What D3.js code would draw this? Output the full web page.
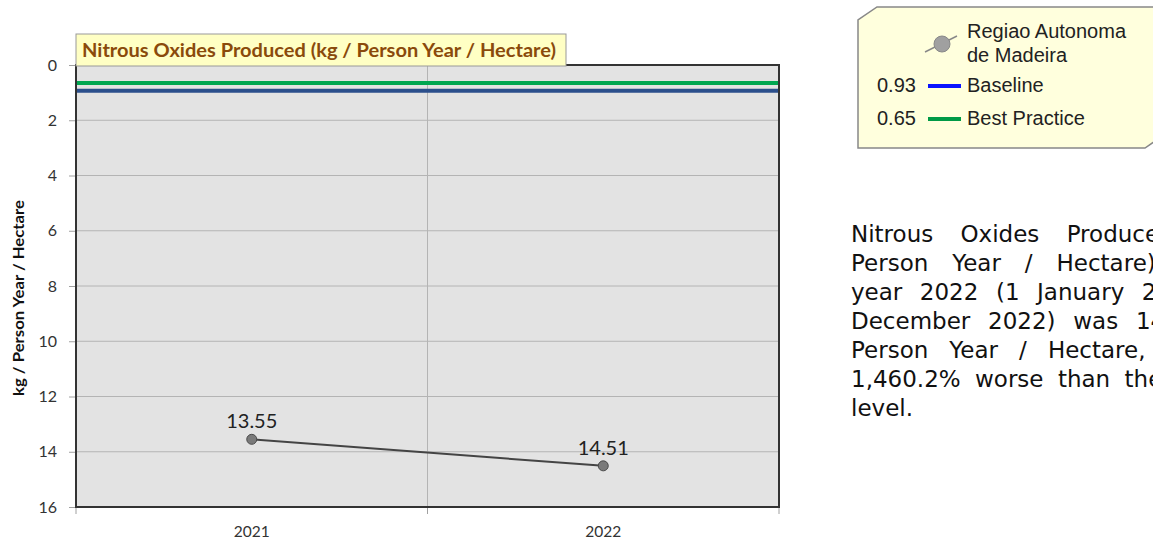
<!DOCTYPE html>
<html><head><meta charset="utf-8">
<script src="https://cdn.jsdelivr.net/npm/d3@7"></script>
<style>
html,body{margin:0;padding:0;overflow:hidden;background:#fff;width:1153px;height:540px;}
svg{display:block;}
</style></head>
<body>
<script>
const categories = ["2021", "2022"];
const seriesName = ["Regiao Autonoma", "de Madeira"];
const seriesValues = [13.55, 14.51];
const baselineValue = 0.93;
const bestPracticeValue = 0.65;
const yTicks = [0, 2, 4, 6, 8, 10, 12, 14, 16];
const chartTitle = "Nitrous Oxides Produced (kg / Person Year / Hectare)";
const yAxisTitle = "kg / Person Year / Hectare";
const paragraphLines = [
  "Nitrous Oxides Produced (kg /",
  "Person Year / Hectare) for the",
  "year 2022 (1 January 2022 - 31",
  "December 2022) was 14.51 kg /",
  "Person Year / Hectare, which is",
  "1,460.2% worse than the baseline",
  "level."
];

const W = 1153, H = 540;
const svg = d3.select("body").append("svg").attr("width", W).attr("height", H);

const L = 76, R = 779, T = 65, B = 507;
const x = d3.scaleBand().domain(categories).range([L, R]);
const y = d3.scaleLinear().domain([0, 16]).range([T, B]);
const cf = "Lato, 'Open Sans', sans-serif";

svg.append("rect").attr("x", L).attr("y", T).attr("width", R - L).attr("height", B - T).attr("fill", "#e3e3e3");

svg.append("g").selectAll("line").data(yTicks.slice(1, -1)).join("line")
  .attr("x1", L).attr("x2", R).attr("y1", d => y(d)).attr("y2", d => y(d))
  .attr("stroke", "#b4b4b4").attr("stroke-width", 1);
svg.append("g").selectAll("line").data(categories.slice(1)).join("line")
  .attr("x1", d => x(d)).attr("x2", d => x(d)).attr("y1", T).attr("y2", B)
  .attr("stroke", "#b4b4b4").attr("stroke-width", 1);

const yAxis = d3.axisLeft(y).tickValues(yTicks).tickSize(7).tickPadding(12).tickFormat(d3.format("d"));
const gy = svg.append("g").attr("transform", `translate(${L},0)`).call(yAxis);
gy.select(".domain").remove();
gy.selectAll(".tick line").attr("stroke", "#a0a0a0");
gy.selectAll(".tick text").attr("font-family", cf).attr("font-size", 16).attr("fill", "#333");

const bounds = categories.map(c => x(c)).concat([x(categories[categories.length - 1]) + x.bandwidth()]);
svg.append("g").selectAll("line").data(bounds).join("line")
  .attr("x1", d => d).attr("x2", d => d).attr("y1", B).attr("y2", B + 7)
  .attr("stroke", "#a0a0a0");
svg.append("g").selectAll("text").data(categories).join("text")
  .attr("x", d => x(d) + x.bandwidth() / 2).attr("y", B + 30)
  .attr("text-anchor", "middle").attr("font-family", cf)
  .attr("font-size", 15.5).attr("fill", "#333").text(d => d);

svg.append("text").attr("transform", `translate(24,298) rotate(-90)`)
  .attr("text-anchor", "middle").attr("font-family", cf)
  .attr("font-weight", "bold").attr("font-size", 16).attr("fill", "#111")
  .attr("textLength", 196).attr("lengthAdjust", "spacingAndGlyphs").text(yAxisTitle);

svg.append("line").attr("x1", L).attr("x2", R).attr("y1", y(bestPracticeValue)).attr("y2", y(bestPracticeValue))
  .attr("stroke", "#00a651").attr("stroke-width", 4);
svg.append("line").attr("x1", L).attr("x2", R).attr("y1", y(baselineValue)).attr("y2", y(baselineValue))
  .attr("stroke", "#2b4f8c").attr("stroke-width", 4);

svg.append("rect").attr("x", L).attr("y", T).attr("width", R - L).attr("height", B - T)
  .attr("fill", "none").attr("stroke", "#333").attr("stroke-width", 2);

const pts = categories.map((c, i) => [x(c) + x.bandwidth() / 2, y(seriesValues[i])]);
svg.append("path").attr("d", d3.line()(pts)).attr("fill", "none").attr("stroke", "#444").attr("stroke-width", 2);
svg.append("g").selectAll("circle").data(pts).join("circle")
  .attr("cx", d => d[0]).attr("cy", d => d[1]).attr("r", 5)
  .attr("fill", "#7a7a7a").attr("stroke", "#4a4a4a").attr("stroke-width", 1);
svg.append("g").selectAll("text").data(seriesValues).join("text")
  .attr("x", (d, i) => pts[i][0]).attr("y", (d, i) => pts[i][1] - 11)
  .attr("text-anchor", "middle").attr("font-family", cf)
  .attr("font-size", 20).attr("fill", "#222").text(d => d.toFixed(2));

// title box
const tg = svg.append("g");
tg.append("rect").attr("x", L).attr("y", 34).attr("width", 490).attr("height", 32)
  .attr("fill", "#ffffc4").attr("stroke", "#999").attr("stroke-width", 1);
tg.append("text").attr("x", 82).attr("y", 57)
  .attr("font-family", cf).attr("font-weight", "bold")
  .attr("font-size", 18.5).attr("fill", "#8a4a0b")
  .attr("textLength", 474).attr("lengthAdjust", "spacingAndGlyphs").text(chartTitle);

// legend
const lx0 = 858, ly0 = 7, lx1 = 1164, ly1 = 148, cx = 19, cy = 13;
svg.append("path")
  .attr("d", `M${lx0 + cx},${ly0} L${lx1},${ly0} L${lx1},${ly1 - cy} L${lx1 - cx},${ly1} L${lx0},${ly1} L${lx0},${ly0 + cy} Z`)
  .attr("fill", "#ffffdd").attr("stroke", "#888").attr("stroke-width", 1.5);

const lf = "Arial, 'Liberation Sans', sans-serif";
svg.append("line").attr("x1", 925).attr("x2", 957).attr("y1", 52).attr("y2", 36).attr("stroke", "#888").attr("stroke-width", 1.5);
svg.append("circle").attr("cx", 942).attr("cy", 44).attr("r", 8).attr("fill", "#a0a0a0").attr("stroke", "#888");
svg.append("g").selectAll("text").data(seriesName).join("text")
  .attr("x", 967).attr("y", (d, i) => 38 + i * 24).attr("font-family", lf).attr("font-size", 20).attr("fill", "#222").text(d => d);

const legendRows = [
  {val: baselineValue, name: "Baseline", color: "#0a14ff"},
  {val: bestPracticeValue, name: "Best Practice", color: "#009a46"}
];
const lr = svg.append("g").selectAll("g").data(legendRows).join("g")
  .attr("transform", (d, i) => `translate(0,${92 + i * 33})`);
lr.append("text").attr("x", 877).attr("y", 0).attr("font-family", lf).attr("font-size", 20).attr("fill", "#222").text(d => d.val.toFixed(2));
lr.append("line").attr("x1", 928).attr("x2", 961).attr("y1", -6).attr("y2", -6).attr("stroke", d => d.color).attr("stroke-width", 4);
lr.append("text").attr("x", 967).attr("y", 0).attr("font-family", lf).attr("font-size", 20).attr("fill", "#222").text(d => d.name);

// justified paragraph
const pf = "'DejaVu Sans', Verdana, sans-serif";
const px = 851, py = 242, pw = 422, plh = 29;
const pg = svg.append("g").attr("font-family", pf).attr("font-size", 23).attr("fill", "#111");
paragraphLines.forEach((line, li) => {
  const words = line.split(" ");
  const tmp = words.map(w => pg.append("text").text(w));
  const widths = tmp.map(t => t.node().getComputedTextLength());
  tmp.forEach(t => t.remove());
  const last = li === paragraphLines.length - 1;
  const total = d3.sum(widths);
  const gap = (last || words.length < 2) ? 7.3 : (pw - total) / (words.length - 1);
  let cxp = px;
  words.forEach((w, wi) => {
    pg.append("text").attr("x", cxp).attr("y", py + li * plh).text(w);
    cxp += widths[wi] + gap;
  });
});
</script></body></html>
